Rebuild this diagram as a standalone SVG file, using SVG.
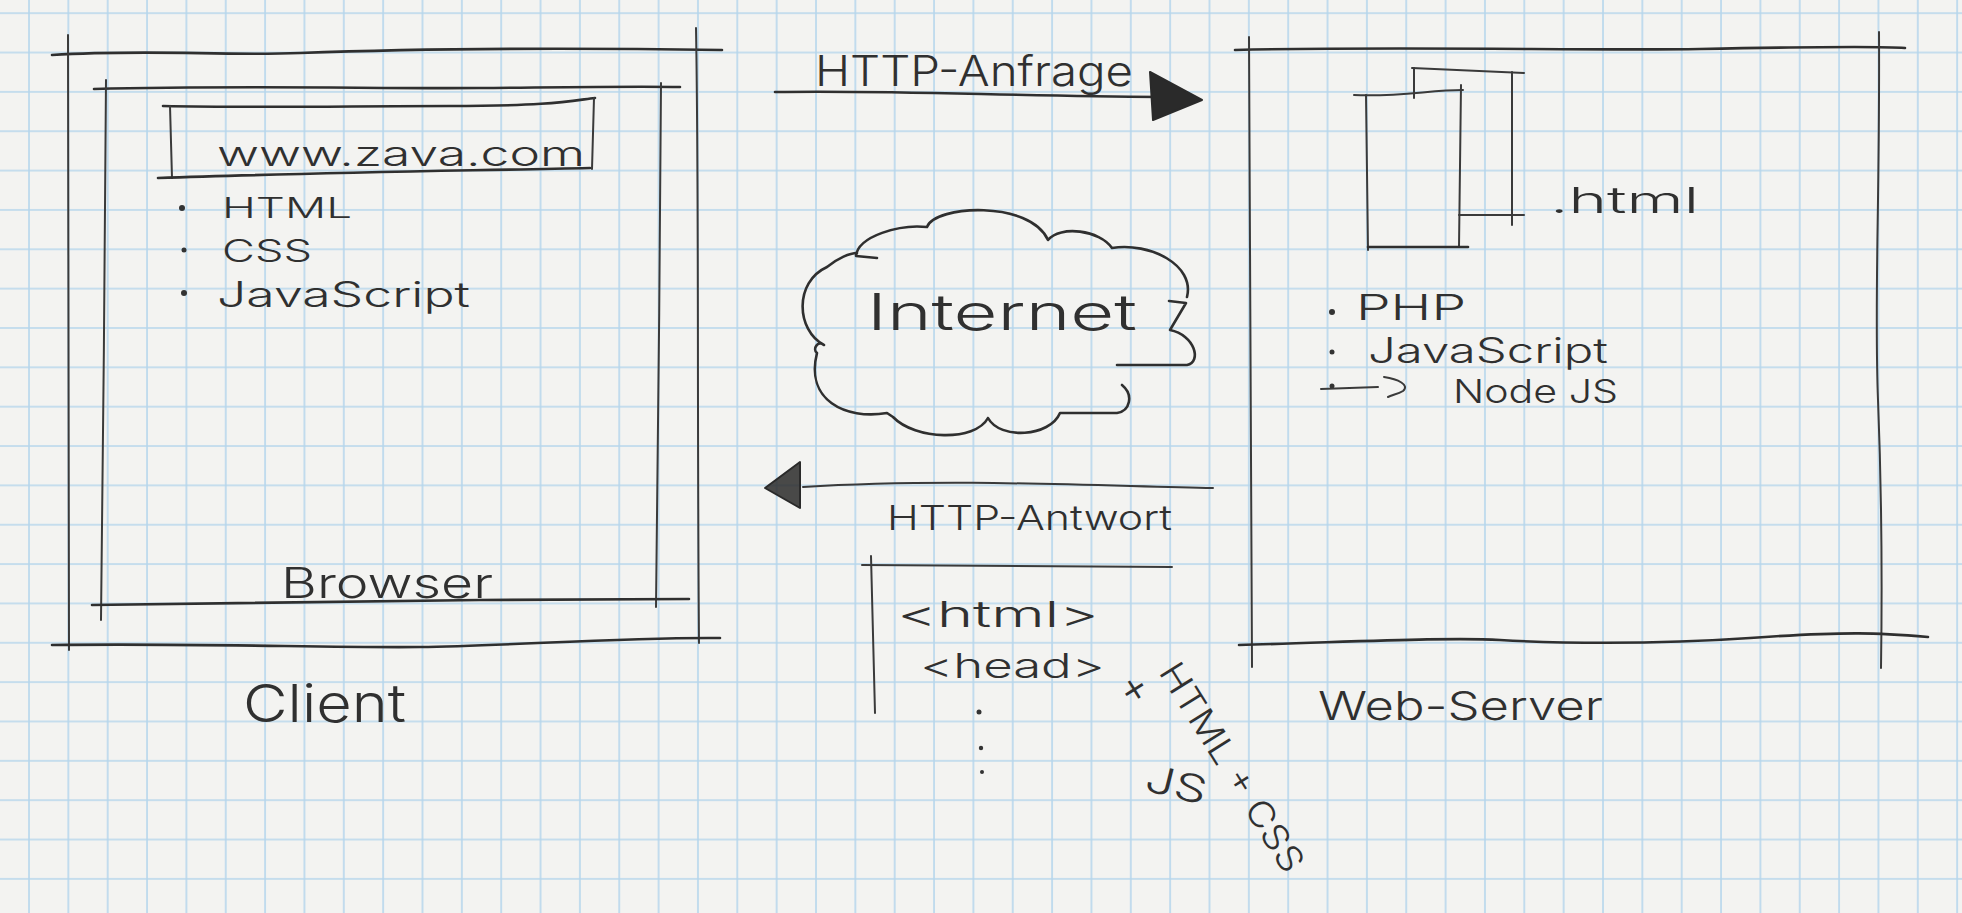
<svg xmlns="http://www.w3.org/2000/svg" width="1962" height="913" viewBox="0 0 1962 913">
  <defs>
    <!-- squared notebook paper -->
    <pattern id="grid" x="28" y="12.2" width="39.35" height="39.35" patternUnits="userSpaceOnUse">
      <path d="M1 0V39.35M0 1H39.35" fill="none" stroke="#b6d6ec" stroke-width="1.6"/>
    </pattern>
    <style>
      .pen { fill: none; stroke: #2f2f2f; stroke-width: 2.6; stroke-linecap: round; stroke-linejoin: round; }
      .thin { stroke-width: 2; stroke: #3a3a3a; }
      .head { fill: #2a2a2a; stroke: #2a2a2a; stroke-width: 2; stroke-linejoin: round; }
      .hand { font-family: "Inter", "Liberation Sans", "DejaVu Sans", sans-serif; font-weight: 300; fill: #303030; }
      .dot { fill: #333333; }
    </style>
  </defs>

  <rect width="1962" height="913" fill="#f3f3f1"/>
  <rect width="1962" height="913" fill="url(#grid)"/>

  <!-- Client machine -->
  <g id="client">
    <path class="pen" d="M52,55 C150,49 220,56 300,53 S520,47 722,50"/>
    <path class="pen thin" d="M68,35 C69,200 67,400 69,650"/>
    <path class="pen thin" d="M696,28 C699,200 697,400 699,643"/>
    <path class="pen" d="M52,645 C200,643 330,648 420,647 S620,637 720,638"/>
    <text class="hand" x="243" y="722" font-size="52" textLength="163" lengthAdjust="spacingAndGlyphs">Client</text>
  </g>

  <!-- Browser window inside the client -->
  <g id="browser">
    <path class="pen" d="M94,89 C250,85 380,89 480,88 S640,86 680,87"/>
    <path class="pen thin" d="M106,80 C105,250 103,450 101,620"/>
    <path class="pen thin" d="M661,83 C660,250 658,450 656,607"/>
    <path class="pen" d="M92,605 C250,603 380,601 480,600 S640,599 689,599"/>
    <text class="hand" x="281" y="598" font-size="42" textLength="212" lengthAdjust="spacingAndGlyphs">Browser</text>
  </g>

  <!-- Address bar -->
  <g id="address-bar">
    <path class="pen" d="M163,106 C260,108 350,106 450,106 S570,101 595,98"/>
    <path class="pen thin" d="M170,106 L172,178"/>
    <path class="pen thin" d="M594,98 L592,169"/>
    <path class="pen" d="M158,178 C300,173 450,171 590,168"/>
    <text class="hand" x="217" y="166" font-size="34" textLength="368" lengthAdjust="spacingAndGlyphs">www.zava.com</text>
  </g>

  <!-- Client-side technologies -->
  <g id="client-tech">
    <circle class="dot" cx="182" cy="208" r="3"/>
    <text class="hand" x="222" y="218" font-size="29" textLength="130" lengthAdjust="spacingAndGlyphs">HTML</text>
    <circle class="dot" cx="184" cy="250" r="2.5"/>
    <text class="hand" x="222" y="262" font-size="31" textLength="90" lengthAdjust="spacingAndGlyphs">CSS</text>
    <circle class="dot" cx="184" cy="293" r="3"/>
    <text class="hand" x="217" y="307" font-size="35" textLength="253" lengthAdjust="spacingAndGlyphs">JavaScript</text>
  </g>

  <!-- Internet cloud -->
  <g id="internet">
    <path class="pen" d="M877,258 L856,256 C858,236 900,224 927,227 C935,205 1030,200 1048,240 C1060,225 1100,230 1112,248 C1150,242 1195,265 1187,297"/>
    <path class="pen" d="M1169,301 L1186,303 L1170,330 C1195,335 1202,362 1187,365 L1117,365"/>
    <path class="pen" d="M1122,385 C1134,395 1130,411 1117,413 L1060,413 C1050,437 1000,440 988,418 C975,442 915,440 893,417 L887,413 C845,420 805,400 817,353 C812,349 818,340 824,345 C796,330 794,282 827,267 C838,258 850,253 857,253"/>
    <text class="hand" x="867" y="330" font-size="50" textLength="270" lengthAdjust="spacingAndGlyphs">Internet</text>
  </g>

  <!-- Web server -->
  <g id="web-server">
    <path class="pen" d="M1235,50 C1400,46 1600,51 1700,49 S1880,46 1905,48"/>
    <path class="pen thin" d="M1249,37 C1250,250 1251,450 1252,667"/>
    <path class="pen thin" d="M1879,32 C1880,200 1874,300 1878,400 S1882,600 1881,668"/>
    <path class="pen" d="M1239,645 C1350,642 1450,637 1500,640 S1650,645 1750,638 S1880,633 1928,637"/>
    <text class="hand" x="1318" y="720" font-size="40" textLength="285" lengthAdjust="spacingAndGlyphs">Web-Server</text>
  </g>

  <!-- Stack of .html documents -->
  <g id="html-files">
    <path class="pen thin" d="M1412,68 L1524,73"/>
    <path class="pen thin" d="M1414,68 L1414,98"/>
    <path class="pen thin" d="M1512,72 L1512,225"/>
    <path class="pen thin" d="M1459,215 L1524,215"/>
    <path class="pen thin" d="M1354,95 C1400,97 1430,90 1463,90"/>
    <path class="pen thin" d="M1366,95 L1368,250"/>
    <path class="pen thin" d="M1461,85 L1459,247"/>
    <path class="pen" d="M1368,247 L1468,247"/>
    <text class="hand" x="1550" y="213" font-size="36" textLength="149" lengthAdjust="spacingAndGlyphs">.html</text>
  </g>

  <!-- Server-side technologies -->
  <g id="server-tech">
    <circle class="dot" cx="1332" cy="312" r="3"/>
    <text class="hand" x="1356" y="320" font-size="35" textLength="110" lengthAdjust="spacingAndGlyphs">PHP</text>
    <circle class="dot" cx="1332" cy="352" r="2.5"/>
    <text class="hand" x="1368" y="363" font-size="35" textLength="240" lengthAdjust="spacingAndGlyphs">JavaScript</text>
    <circle class="dot" cx="1332" cy="386" r="2.5"/>
    <path class="pen thin" d="M1321,389 L1378,387"/>
    <path class="pen thin" d="M1384,377 C1398,379 1410,385 1403,391 C1398,394 1392,395 1388,397"/>
    <text class="hand" x="1453" y="403" font-size="33" textLength="165" lengthAdjust="spacingAndGlyphs">Node JS</text>
  </g>

  <!-- Response body sketch -->
  <g id="response-body">
    <path class="pen thin" d="M862,565 C950,566 1050,567 1172,567"/>
    <path class="pen thin" d="M871,556 L875,713"/>
    <text class="hand" x="897" y="627" font-size="36" textLength="202" lengthAdjust="spacingAndGlyphs">&lt;html&gt;</text>
    <text class="hand" x="920" y="678" font-size="34" textLength="185" lengthAdjust="spacingAndGlyphs">&lt;head&gt;</text>
    <circle class="dot" cx="979" cy="712" r="2.5"/>
    <circle class="dot" cx="981" cy="748" r="2.2"/>
    <circle class="dot" cx="982" cy="772" r="2"/>
  </g>

  <!-- Content types delivered with the response -->
  <g id="content-types">
    <text class="hand" font-size="44" transform="translate(1116,684) rotate(58)">+</text>
    <text class="hand" font-size="35" textLength="240" lengthAdjust="spacingAndGlyphs" transform="translate(1158,672) rotate(58)">HTML + CSS</text>
    <text class="hand" font-size="38" textLength="62" lengthAdjust="spacingAndGlyphs" transform="translate(1143,790) rotate(14)">JS</text>
  </g>

  <!-- Request and response arrows -->
  <g id="connectors">
    <g id="http-request">
      <path class="pen" d="M775,92 C900,90 1000,96 1160,97"/>
      <path class="head" d="M1150,72 L1202,100 L1153,120 Z"/>
      <text class="hand" x="815" y="86" font-size="42" textLength="318" lengthAdjust="spacingAndGlyphs">HTTP-Anfrage</text>
    </g>
    <g id="http-response">
      <path class="pen thin" d="M1213,488 C1100,486 950,478 803,487"/>
      <path class="head" d="M765,488 L800,462 L800,508 Z" fill-opacity="0.85"/>
      <text class="hand" x="887" y="530" font-size="34" textLength="285" lengthAdjust="spacingAndGlyphs">HTTP-Antwort</text>
    </g>
  </g>
</svg>
